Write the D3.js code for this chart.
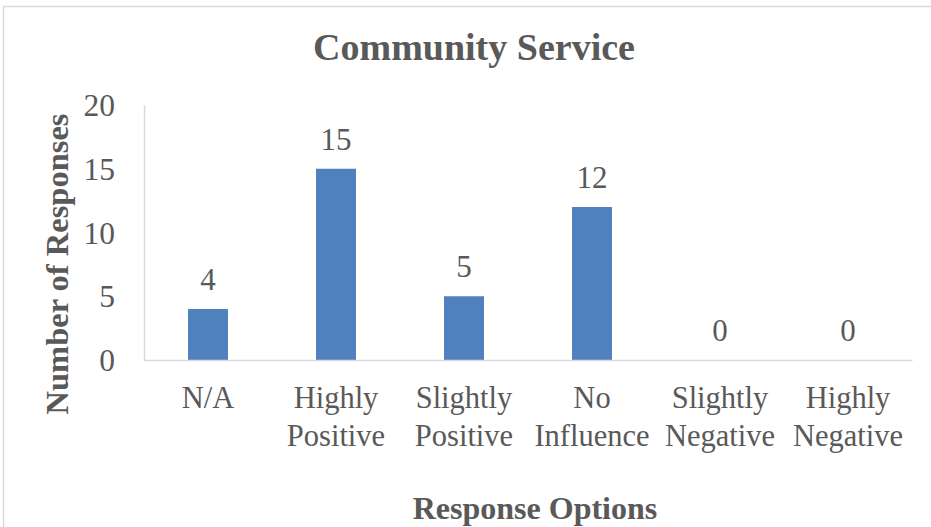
<!DOCTYPE html>
<html>
<head>
<meta charset="utf-8">
<script src="https://cdn.jsdelivr.net/npm/d3@7"></script>
<style>
  html, body { margin: 0; padding: 0; background: #fff; }
  svg { display: block; }
  text { font-family: "Liberation Serif", "Times New Roman", serif; fill: #595959; }
</style>
</head>
<body>
<svg id="chart" width="931" height="527"></svg>
<script>
// Survey responses for the community service question
const categories = [
  ["N/A"],
  ["Highly", "Positive"],
  ["Slightly", "Positive"],
  ["No", "Influence"],
  ["Slightly", "Negative"],
  ["Highly", "Negative"]
];
const responses = [4, 15, 5, 12, 0, 0];
const yTicks = [0, 5, 10, 15, 20];

const svg = d3.select("#chart");
const W = 931, H = 527;
const plot = { left: 144, right: 912, top: 105, bottom: 360 };

// outer chart frame
svg.append("rect")
  .attr("x", 3.5).attr("y", 6.5)
  .attr("width", W + 20).attr("height", H + 20)
  .attr("fill", "none").attr("stroke", "#d9d9d9").attr("stroke-width", 1.5);

const keys = categories.map((c, i) => i);
const x = d3.scaleBand().domain(keys).range([plot.left, plot.right])
  .paddingInner(0.6875).paddingOuter(0.34375);
const y = d3.scaleLinear().domain([0, 20]).range([plot.bottom, plot.top]);

// y axis: line plus numeric labels, no tick marks
const yAxis = svg.append("g")
  .attr("transform", `translate(${plot.left},0)`)
  .call(d3.axisLeft(y).tickValues(yTicks).tickSize(0).tickPadding(29));
yAxis.select(".domain").attr("stroke", "#d9d9d9").attr("stroke-width", 1.5);
yAxis.selectAll("text")
  .attr("font-family", "Liberation Serif, serif")
  .attr("font-size", 31.5).attr("fill", "#595959").attr("dy", "0.34em");

// bars
svg.append("g").selectAll("rect")
  .data(responses)
  .join("rect")
  .attr("x", (d, i) => x(i))
  .attr("y", d => y(d))
  .attr("width", x.bandwidth())
  .attr("height", d => y(0) - y(d))
  .attr("fill", "#4f81bd");

// baseline drawn through the x axis
const xAxis = svg.append("g")
  .attr("transform", `translate(0,${plot.bottom})`)
  .call(d3.axisBottom(x).tickSize(0).tickFormat(""));
xAxis.select(".domain").attr("stroke", "#d9d9d9").attr("stroke-width", 1.5);

// category labels, possibly on two lines
const catLabels = svg.append("g").selectAll("text")
  .data(categories)
  .join("text")
  .attr("text-anchor", "middle")
  .attr("font-size", 30.5)
  .attr("x", (d, i) => x(i) + x.bandwidth() / 2)
  .attr("y", 408);
catLabels.selectAll("tspan")
  .data(d => d)
  .join("tspan")
  .attr("x", function () { return this.parentNode.getAttribute("x"); })
  .attr("dy", (d, i) => i === 0 ? 0 : 38)
  .text(d => d);

// value labels above bars
svg.append("g").selectAll("text")
  .data(responses)
  .join("text")
  .attr("text-anchor", "middle")
  .attr("font-size", 31)
  .attr("x", (d, i) => x(i) + x.bandwidth() / 2)
  .attr("y", d => y(d) - 19)
  .text(d => d);

// chart title
svg.append("text")
  .attr("x", 474).attr("y", 60)
  .attr("text-anchor", "middle")
  .attr("font-size", 38).attr("font-weight", "bold")
  .text("Community Service");

// axis titles
svg.append("text")
  .attr("x", 535).attr("y", 519)
  .attr("text-anchor", "middle")
  .attr("font-size", 32).attr("font-weight", "bold")
  .text("Response Options");

svg.append("text")
  .attr("transform", "translate(68,264) rotate(-90)")
  .attr("text-anchor", "middle")
  .attr("font-size", 32.5).attr("font-weight", "bold")
  .text("Number of Responses");
</script>
</body>
</html>
